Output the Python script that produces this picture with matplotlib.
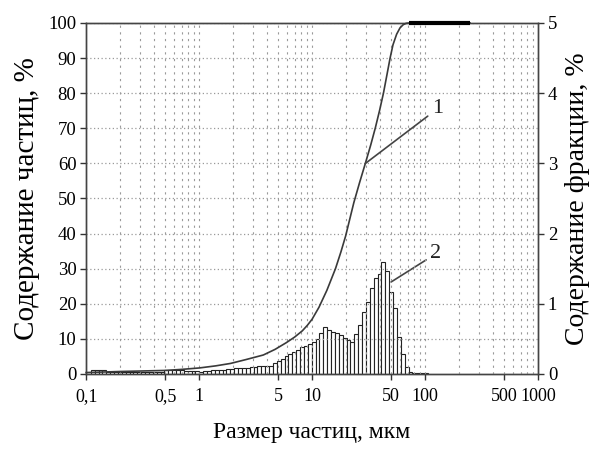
import numpy as np
import matplotlib
matplotlib.use("Agg")
import matplotlib.pyplot as plt

plt.rcParams['font.family'] = ['Liberation Serif', 'DejaVu Serif']

# ---- data ----
# cumulative curve (1), left axis, %
cum_size = [0.1, 0.2, 0.5, 0.7, 1.0, 1.4, 1.9, 2.6, 3.7, 4.7, 5.9, 7.0, 8.2, 9.1,
            10, 11.5, 13.5, 16.1, 18, 19.8, 21.5, 23.4, 26.3, 29.6, 33, 36.2,
            39.5, 42.8, 46, 49, 52, 56, 60, 64, 68, 72, 100, 250]
cum_pct = [0.4, 0.7, 1.0, 1.3, 1.7, 2.3, 3.0, 4.1, 5.4, 7.0, 8.9, 10.5, 12.3, 13.9,
           15.6, 19.0, 23.8, 30.0, 34.8, 39.3, 44.0, 48.8, 54.5, 60.0, 65.2, 70.0,
           75.0, 80.0, 85.3, 90.0, 93.8, 96.8, 98.6, 99.5, 99.9, 100, 100, 100]

# fraction histogram (2), right axis, %  (log-spaced instrument bins)
bin_start = 0.11
bin_step_dec = 0.0343
frac_pct = [0.05, 0.05, 0.05, 0.05,
            0.03, 0.03, 0.03, 0.03, 0.03, 0.03, 0.03, 0.03, 0.03, 0.03, 0.03, 0.03, 0.03, 0.03, 0.03,
            0.05, 0.05, 0.05, 0.05, 0.05,
            0.04, 0.04, 0.04, 0.04,
            0.03, 0.04, 0.04, 0.05, 0.05, 0.06, 0.06, 0.07, 0.07, 0.08,
            0.08, 0.08, 0.09, 0.10, 0.10, 0.11, 0.11, 0.12, 0.12, 0.16,
            0.19, 0.22, 0.25, 0.28, 0.31, 0.34, 0.39, 0.40, 0.43, 0.45,
            0.50, 0.58, 0.67, 0.62, 0.60, 0.58, 0.55, 0.51, 0.48, 0.46,
            0.57, 0.70, 0.88, 1.03, 1.22, 1.36, 1.42, 1.60, 1.46, 1.17,
            0.94, 0.53, 0.29, 0.10, 0.03, 0.01, 0.01, 0.01, 0.01]

x_ticks = [0.1, 0.5, 1, 5, 10, 50, 100, 500, 1000]
x_tick_labels = ['0,1', '0,5', '1', '5', '10', '50', '100', '500', '1000']
left_ticks = [0, 10, 20, 30, 40, 50, 60, 70, 80, 90, 100]
right_ticks = [0, 1, 2, 3, 4, 5]

xlabel = 'Размер частиц, мкм'
ylabel_left = 'Содержание частиц, %'
ylabel_right = 'Содержание фракции, %'

# ---- figure ----
fig = plt.figure(figsize=(5.9, 4.5), dpi=100)
ax = fig.add_axes([0.146, 0.169, 0.766, 0.780])
ax.set_xscale('log')
ax.set_xlim(0.1, 1000)
ax.set_ylim(0, 100)

# grid
grid_c = '#9a9a9a'
for dec in [0.1, 1, 10, 100]:
    for k in range(1, 10):
        v = dec * k
        if 0.1 < v < 1000:
            ax.axvline(v, color=grid_c, lw=0.8, ls=(0, (2, 4)), zorder=0)
for v in left_ticks[1:]:
    ax.axhline(v, color=grid_c, lw=0.9, ls=(0, (1, 2)), zorder=0)

ax2 = ax.twinx()
ax2.set_ylim(0, 5)
ax2.set_xscale('log')
ax2.set_xlim(0.1, 1000)

# histogram bars
n = len(frac_pct)
edges = bin_start * 10 ** (bin_step_dec * np.arange(n + 1))
lefts = edges[:-1]
widths = np.diff(edges)
ax2.bar(lefts, frac_pct, width=widths, align='edge', facecolor='white',
        edgecolor='#222222', linewidth=0.8, zorder=2)

# cumulative curve on top
ax.set_zorder(ax2.get_zorder() + 1)
ax.patch.set_visible(False)
cs = np.array(cum_size)
cp = np.array(cum_pct)
ax.plot(cs, cp, color='#3a3a3a', lw=1.2, zorder=3, clip_on=False)
full = cp >= 100
ax.plot(cs[full], cp[full], color='black', lw=3, zorder=4, clip_on=False,
        solid_capstyle='butt')

# annotations
ax.annotate('1', xy=(29.7, 60), xytext=(128, 75.5), fontsize=16,
            ha='center', va='center', color='#222222',
            arrowprops=dict(arrowstyle='-', color='#444444', lw=1.2,
                            shrinkA=1, shrinkB=0))
ax2.annotate('2', xy=(50, 1.31), xytext=(124, 1.71), fontsize=16,
             ha='center', va='center', color='#222222',
             arrowprops=dict(arrowstyle='-', color='#444444', lw=1.2,
                             shrinkA=1, shrinkB=0))

# ticks and labels
ax.set_xticks(x_ticks)
ax.set_xticklabels(x_tick_labels)
ax.xaxis.set_minor_locator(matplotlib.ticker.NullLocator())
ax2.xaxis.set_minor_locator(matplotlib.ticker.NullLocator())
ax.set_yticks(left_ticks)
ax2.set_yticks(right_ticks)
for a in (ax, ax2):
    a.tick_params(axis='both', which='major', labelsize=13.5, length=4,
                  width=1, color='#333333', direction='out', pad=3)
    for s in a.spines.values():
        s.set_color('#444444')
        s.set_linewidth(1.0)
ax.tick_params(axis='x', labelsize=13, pad=6)

ax.set_xlabel(xlabel, fontsize=17, labelpad=12)
ax.set_ylabel(ylabel_left, fontsize=21, labelpad=6)
ax2.set_ylabel(ylabel_right, fontsize=20, va='center', rotation=90)
ax2.yaxis.set_label_coords(1.088, 0.5)

fig.savefig('out.png', dpi=100)
